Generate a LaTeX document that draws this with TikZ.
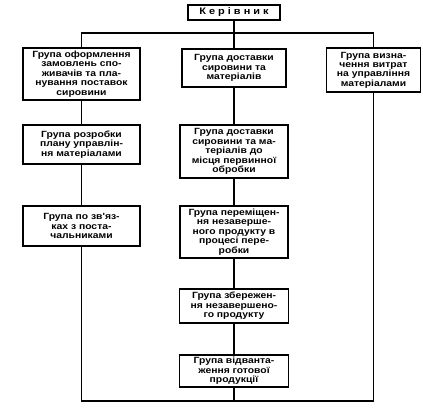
\documentclass[tikz,border=0pt]{standalone}
\usepackage{fontspec}
\usepackage{tikz}
\usetikzlibrary{positioning,calc}
\newfontfamily\boxfont{Liberation Sans}[FakeStretch=1.15]

\begin{document}
\begin{tikzpicture}[
      x=1pt,y=-1pt,
      box/.style={draw,line width=1.3pt,fill=white,
        inner sep=1pt,align=center,
        font=\boxfont\bfseries\fontsize{9}{9.4}\selectfont},
      link/.style={line width=1.1pt}
    ]
      \useasboundingbox (0,0) rectangle (423,408);
      \node[box,minimum width=92pt,minimum height=15pt,
        font=\boxfont\bfseries\fontsize{9.5}{10}\selectfont\addfontfeature{LetterSpace=32}]
        (boss) at (234,12.5){Керівник};

      \node[box,minimum width=117pt,minimum height=52pt](l1) at (81.5,74){Група оформлення\\
        замовлень спо-\\живачів та пла-\\нування поставок\\сировини};
      \node[box,minimum width=104pt,minimum height=38pt](m1) at (234,68){Група доставки\\
        сировини та\\матеріалів};
      \node[box,minimum width=94pt,minimum height=44pt](r1) at (373.5,70){Група визна-\\
        чення витрат\\на управління\\матеріалами};

      \node[box,minimum width=117pt,minimum height=39pt](l2) at (81.5,144.5){Група розробки\\
        плану управлін-\\ня матеріалами};
      \node[box,minimum width=117pt,minimum height=40pt](l3) at (81.5,226){Група по зв'яз-\\
        ках з поста-\\чальниками};

      \node[box,minimum width=108pt,minimum height=53pt](m2) at (234,151.5){Група доставки\\
        сировини та ма-\\теріалів до\\місця первинної\\обробки};
      \node[box,minimum width=108pt,minimum height=52pt](m3) at (234,232){Група переміщен-\\
        ня незаверше-\\ного продукту в\\процесі пере-\\робки};
      \node[box,minimum width=109pt,minimum height=34pt](m4) at (234,306){Група збережен-\\
        ня незавершено-\\го продукту};
      \node[box,minimum width=109pt,minimum height=32pt](m5) at (234,371){Група відванта-\\
        ження готової\\продукції};

      \coordinate (bus) at (0,33);
      \coordinate (base) at (0,401);

      \draw[link](boss)--(boss |- bus);
      \draw[link](l1.north)--(l1 |- bus)-|(r1.north);
      \draw[link](m1.north)--(m1 |- bus);
      \draw[link](l1)--(l2);
      \draw[link](l2)--(l3);
      \draw[link](m1)--(m2);
      \draw[link](m2)--(m3);
      \draw[link](m3)--(m4);
      \draw[link](m4)--(m5);
      \draw[link](l3.south)|-(r1 |- base)--(r1.south);
      \draw[link](m5.south)--(m5 |- base);
    \end{tikzpicture}
\end{document}
